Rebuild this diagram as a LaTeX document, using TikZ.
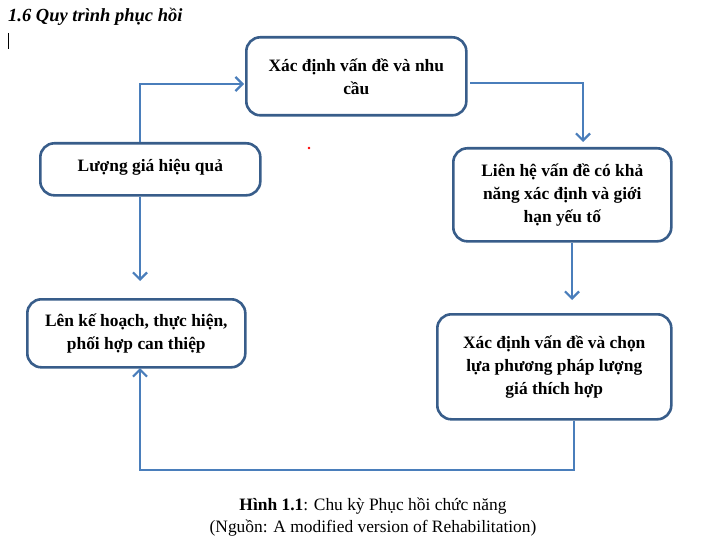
\documentclass[tikz,border=0pt]{standalone}
\usepackage{fontspec}
\setmainfont{Liberation Serif}
\usetikzlibrary{arrows.meta}
\definecolor{boxc}{HTML}{385D8A}
\definecolor{arrc}{HTML}{4A7EBB}
\begin{document}
\begin{tikzpicture}[x=1pt,y=-1pt,
  bx/.style={draw=boxc,line width=2.6pt,rounded corners=14pt,fill=white,align=center,font=\bfseries\fontsize{17.4}{23}\selectfont,inner sep=0pt,anchor=north west},
  ar/.style={draw=arrc,line width=2.4pt,-{Straight Barb[length=7pt,width=14pt,line width=2.2pt]}}]
\useasboundingbox (0,0) rectangle (703,556);
\node[bx,minimum width=220pt,minimum height=78pt] (b1) at (245,36) {\raisebox{8pt}{\parbox{215pt}{\centering Xác định vấn đề và nhu\\cầu}}};
\node[bx,minimum width=218pt,minimum height=93pt] (b2) at (452,147) {\raisebox{3pt}{\parbox{215pt}{\centering Liên hệ vấn đề có khả\\năng xác định và giới\\hạn yếu tố}}};
\node[bx,minimum width=234pt,minimum height=105pt] (b3) at (436,313) {\raisebox{8pt}{\parbox{230pt}{\centering Xác định vấn đề và chọn\\lựa phương pháp lượng\\giá thích hợp}}};
\node[bx,minimum width=218pt,minimum height=68pt] (b4) at (26,298) {\raisebox{1pt}{\parbox{215pt}{\centering Lên kế hoạch, thực hiện,\\phối hợp can thiệp}}};
\node[bx,minimum width=220pt,minimum height=52pt] (b5) at (39,142) {\raisebox{8pt}{Lượng giá hiệu quả}};
\coordinate (t1) at (244,84);
\coordinate (t2) at (583,142);
\coordinate (t3) at (572,300);
\coordinate (t4) at (140,368);
\coordinate (t5) at (140,281);
\draw[ar] (b5.north -| 140,0) -- (140,84) -- (t1);
\draw[ar] (470,83) -- (583,83) -- (t2);
\draw[ar] (b2.south -| 572,0) -- (t3);
\draw[ar] (b3.south -| 574,0) -- (574,470) -- (140,470) -- (t4);
\draw[ar] (b5.south -| 140,0) -- (t5);
\fill[red] (309,148) circle (1.4pt);
\node[anchor=west,font=\bfseries\itshape\fontsize{18.5}{20}\selectfont,inner sep=0pt] (title) at (8,17) {1.6 Quy trình phục hồi};
\draw[line width=0.9pt] (8,33) -- (8,49);
\node[font=\fontsize{17.4}{20}\selectfont] (cap1) at (373,506) {\textbf{Hình 1.1}: Chu kỳ Phục hồi chức năng};
\node[font=\fontsize{17.4}{20}\selectfont] (cap2) at (373,528) {(Nguồn: A modified version of Rehabilitation)};
\end{tikzpicture}
\end{document}
